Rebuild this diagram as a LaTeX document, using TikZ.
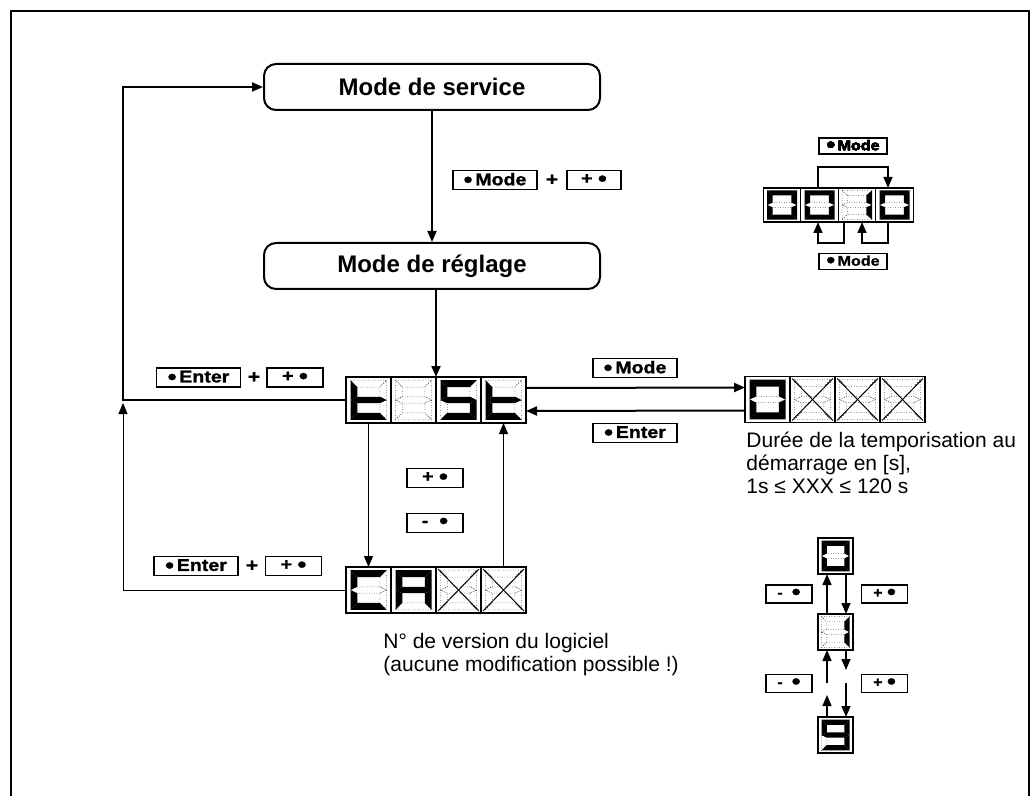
\documentclass[tikz,border=0pt]{standalone}
\usepackage{fontspec}
\setmainfont{Liberation Sans}
\newfontfamily\keyfont[FakeStretch=1.15,FakeBold=1.2]{Liberation Sans Bold}
\usetikzlibrary{arrows.meta,positioning,calc}

\newcommand\kdot{\raisebox{-0.9pt}{\fontsize{11}{11}\selectfont •}}
\tikzset{
  >={Triangle[length=5.5pt,width=4.5pt]},
  modebox/.style={draw,line width=1pt,rounded corners=6pt,minimum width=168pt,
    minimum height=23pt,font=\fontsize{12}{14}\selectfont\bfseries},
  keybox/.style={draw,line width=0.9pt,minimum height=9.5pt,inner sep=0pt,
    font=\fontsize{8.5}{9}\keyfont},
  smallkey/.style={keybox,minimum height=8pt,font=\fontsize{7}{7}\keyfont},
  pluslabel/.style={font=\fontsize{9}{9}\keyfont,inner sep=0pt},
  cell/.style={draw,fill=white,line width=0.6pt,inner sep=0pt,outer sep=0pt,
    minimum width=22.5pt,minimum height=23pt},
  smallcell/.style={cell,minimum width=18.75pt,minimum height=17pt},
  tinycell/.style={cell,minimum width=17.5pt,minimum height=18pt},
  segon/.style={fill=black},
  segoff/.style={line width=0.25pt,densely dotted},
  link/.style={line width=1pt},
  thinlink/.style={line width=0.5pt},
  minilink/.style={line width=0.7pt},
  textnote/.style={align=left,inner sep=0pt,font=\fontsize{10.5}{11.5}\selectfont},
}

% seven segment digit drawn in a cell node: node, x unit, y unit, lit segments
\makeatletter
\newcommand\segdigit[4]{%
  \begin{scope}[shift={(#1.center)},x=#2,y=#3]
    \foreach \s/\p in {
      a/{(-4,4.3)--(4,4.3)--(2.5,2.8)--(-2.5,2.8)--cycle},
      b/{(4,4.3)--(4,0)--(2.5,0.7)--(2.5,2.8)--cycle},
      c/{(4,0)--(4,-4.3)--(2.5,-2.8)--(2.5,-0.7)--cycle},
      d/{(-4,-4.3)--(4,-4.3)--(2.5,-2.8)--(-2.5,-2.8)--cycle},
      e/{(-4,0)--(-4,-4.3)--(-2.5,-2.8)--(-2.5,-0.7)--cycle},
      f/{(-4,4.3)--(-4,0)--(-2.5,0.7)--(-2.5,2.8)--cycle},
      g/{(-4,0)--(-2.5,0.7)--(2.5,0.7)--(4,0)--(2.5,-0.7)--(-2.5,-0.7)--cycle}}{
      \edef\segtest{\noexpand\in@{\s}{#4}}\segtest
      \ifin@ \fill[segon] \p; \else \draw[segoff] \p; \fi
    }
  \end{scope}}
\makeatother
\newcommand\crossdigit[1]{%
  \draw[line width=0.5pt] ([shift={(1pt,-1pt)}]#1.north west) -- ([shift={(-1pt,1pt)}]#1.south east)
    ([shift={(-1pt,-1pt)}]#1.north east) -- ([shift={(1pt,1pt)}]#1.south west);}

\begin{document}
\begin{tikzpicture}[x=0.5pt,y=-0.5pt]
  \useasboundingbox (0,0) rectangle (1032,796);
  % Frame
  \draw[line width=0.6pt] (11,796) -- (11,11) -- (1029,11) -- (1029,796);

  % Modes
  \node[modebox] (service) at (432,87) {Mode de service};
  \node[modebox] (reglage) at (432,266) {Mode de réglage};

  % Displays tESt and CA
  \node[cell] (t1) at (368.5,400) {};
  \node[cell] (c1) at (368.5,590) {};
  \node[cell] (z1) at (767.5,399.5) {};
  \foreach \p/\n in {1/2,2/3,3/4} {
    \node[cell,right=0pt of t\p] (t\n) {};
    \node[cell,right=0pt of c\p] (c\n) {};
    \node[cell,right=0pt of z\p] (z\n) {};
  }
  \segdigit{t1}{2.25pt}{2.3pt}{fged}
  \segdigit{t2}{2.25pt}{2.3pt}{}
  \segdigit{t3}{2.25pt}{2.3pt}{afgcd}
  \segdigit{t4}{2.25pt}{2.3pt}{fged}
  \segdigit{c1}{2.25pt}{2.3pt}{afed}
  \segdigit{c2}{2.25pt}{2.3pt}{abcefg}
  \segdigit{z1}{2.25pt}{2.3pt}{abcdef}
  \foreach \n in {c3,c4,z2,z3,z4} {
    \segdigit{\n}{2.25pt}{2.3pt}{}
    \crossdigit{\n}
  }

  % Keys
  \node[keybox,minimum width=42pt] (modekey) at (495,180) {\kdot\,Mode};
  \node[pluslabel] (plusa) at (552,180) {+};
  \node[keybox,minimum width=27pt] (inckey) at (594,180) {+\ \kdot};
  \node[keybox,minimum width=42pt] (enterup) at (198.5,377.5) {\kdot\,Enter};
  \node[pluslabel] (plusb) at (254,377.5) {+};
  \node[keybox,minimum width=28pt] (incup) at (295,377.5) {+\ \kdot};
  \node[keybox,minimum width=42pt] (enterlow) at (196,566) {\kdot\,Enter};
  \node[pluslabel] (plusc) at (252,566) {+};
  \node[keybox,minimum width=28pt] (inclow) at (293.5,566) {+\ \kdot};
  \node[keybox,minimum width=42pt] (moderight) at (635,368) {\kdot\,Mode};
  \node[keybox,minimum width=42pt] (enterright) at (635,433) {\kdot\,Enter};
  \node[keybox,minimum width=28pt] (incmid) at (435,478) {+\ \kdot};
  \node[keybox,minimum width=28pt] (decmid) at (435,523) {-\ \ \kdot};

  % Connectors
  \draw[link,->] (service) -- (reglage);
  \draw[link,->] (t2.north east |- reglage.south) -- (t2.north east);
  \coordinate (loopl) at (123,400);
  \coordinate (loopend) at (123,403);
  \draw[link,->] (t1.west) -- (loopl) |- (service.west);
  \draw[thinlink,->] (c1.west) -| (loopend);
  \draw[thinlink,->] (t1.south) -- (c1.north);
  \draw[thinlink,->] (c4.north) -- (t4.south);
  \draw[link,->] ([yshift=6pt]t4.east) -- ([yshift=6pt]z1.west);
  \draw[link,->] ([yshift=-5.5pt]z1.west) -- ([yshift=-5.5pt]t4.east);

  % Notes
  \node[textnote,anchor=north west] (tempo) at (746,432)
    {Durée de la temporisation au\\démarrage en [s],\\1s ≤ XXX ≤ 120 s};
  \node[textnote,anchor=north west] (version) at (383,633)
    {N° de version du logiciel\\(aucune modification possible !)};

  % Digit selection
  \node[smallcell] (d1) at (782,205) {};
  \foreach \p/\n in {1/2,2/3,3/4}
    \node[smallcell,right=0pt of d\p] (d\n) {};
  \foreach \n/\l in {d1/abcdef,d2/abcdef,d3/bc,d4/abcdef}
    \segdigit{\n}{1.875pt}{1.7pt}{\l}
  \node[smallkey,minimum width=34pt] (modetop) at (853,146) {\kdot\,Mode};
  \node[smallkey,minimum width=34pt] (modebot) at (853,261.5) {\kdot\,Mode};
  \coordinate (topbend) at (0,167);
  \coordinate (botbend) at (0,243);
  \coordinate (colA) at (818,0);
  \coordinate (colB) at (844,0);
  \coordinate (colC) at (862,0);
  \coordinate (colD) at (888,0);
  \draw[minilink,->] (colA |- d2.north) -- (colA |- topbend) -| (colD |- d4.north);
  \draw[minilink,->] (colB |- d3.south) -- (colB |- botbend) -| (colA |- d2.south);
  \draw[minilink,->] (colD |- d4.south) -- (colD |- botbend) -| (colC |- d3.south);

  % Value change
  \node[tinycell] (e0) at (835.5,556) {};
  \node[tinycell] (e1) at (835.5,632) {};
  \node[tinycell] (e9) at (835.5,735) {};
  \segdigit{e0}{1.75pt}{1.8pt}{abcdef}
  \segdigit{e1}{1.75pt}{1.8pt}{bc}
  \segdigit{e9}{1.75pt}{1.8pt}{abcdfg}
  \node[smallkey,minimum width=23pt,minimum height=9pt] (decone) at (789,594) {-\ \ \kdot};
  \node[smallkey,minimum width=23pt,minimum height=9pt] (incone) at (884.5,594) {+\ \kdot};
  \node[smallkey,minimum width=23pt,minimum height=9pt] (dectwo) at (789,683.5) {-\ \ \kdot};
  \node[smallkey,minimum width=23pt,minimum height=9pt] (inctwo) at (884.5,683.5) {+\ \kdot};
  \coordinate (colL) at (827,0);
  \coordinate (colR) at (846,0);
  \coordinate (gapup) at (0,683);
  \coordinate (gapdn) at (0,670);
  \coordinate (gaptip) at (0,695);
  \draw[minilink,->] (colL |- e1.north) -- (colL |- e0.south);
  \draw[minilink,->] (colR |- e0.south) -- (colR |- e1.north);
  \draw[minilink,->] (colL |- gapup) -- (colL |- e1.south);
  \draw[minilink,->] (colR |- e1.south) -- (colR |- gapdn);
  \draw[minilink,->] (colR |- gapup) -- (colR |- e9.north);
  \draw[minilink,->] (colL |- e9.north) -- (colL |- gaptip);
\end{tikzpicture}
\end{document}
